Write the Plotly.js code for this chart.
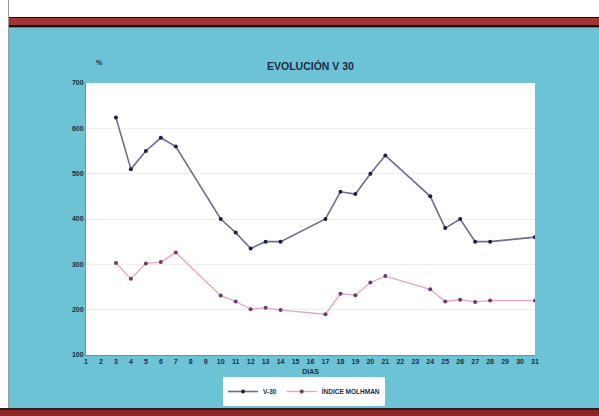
<!DOCTYPE html>
<html>
<head>
<meta charset="utf-8">
<script src="https://cdn.plot.ly/plotly-3.0.1.min.js"></script>
<style>
  html, body { margin: 0; padding: 0; background: #ffffff; }
  #page { position: relative; width: 599px; height: 416px; overflow: hidden; background: #ffffff; }
  #edge { position: absolute; left: 8px; top: 0; width: 1px; height: 408px; background: #9a9a9a; }
  #band-top { position: absolute; left: 9px; top: 17px; width: 590px; height: 11px;
              background: linear-gradient(#1a0a0a 0, #1a0a0a 1px, #a53535 1px, #a53535 8px, #1a0a0a 8px, #1a0a0a 10px, #4e8a96 10px); }
  #chart { position: absolute; left: 9px; top: 28px; width: 590px; height: 380px; }
  #band-bottom { position: absolute; left: 0; top: 408px; width: 599px; height: 8px;
                 background: linear-gradient(#2a2020 0, #2a2020 2px, #8c2424 2px); }
</style>
</head>
<body>
<div id="page">
  <div id="edge"></div>
  <div id="band-top"></div>
  <div id="chart"></div>
  <div id="band-bottom"></div>
</div>
<script>
// Days of the month with readings
const dias = [3, 4, 5, 6, 7, 10, 11, 12, 13, 14, 17, 18, 19, 20, 21, 24, 25, 26, 27, 28, 31];
// V-30 readings (%)
const v30 = [624, 510, 550, 579, 560, 400, 370, 335, 350, 350, 400, 460, 455, 500, 540, 450, 380, 400, 350, 350, 360];
// Índice Molhman readings (%)
const molhman = [303, 268, 302, 305, 326, 231, 218, 201, 204, 199, 190, 235, 232, 260, 274, 245, 218, 222, 217, 220, 220];
// Axis ticks
const xTicks = [1, 2, 3, 4, 5, 6, 7, 8, 9, 10, 11, 12, 13, 14, 15, 16, 17, 18, 19, 20, 21, 22, 23, 24, 25, 26, 27, 28, 29, 30, 31];
const yTicks = [100, 200, 300, 400, 500, 600, 700];

const inkColor = '#1d2b45';
const baseFont = { family: 'Liberation Sans, Arial, sans-serif', size: 7, color: inkColor, weight: 'bold' };

const traces = [
  {
    x: dias, y: v30, name: 'V-30', type: 'scatter', mode: 'lines+markers',
    line: { color: '#6e6f8c', width: 1.6 },
    marker: { color: '#1b1d4a', size: 4, symbol: 'circle' }
  },
  {
    x: dias, y: molhman, name: 'ÍNDICE MOLHMAN', type: 'scatter', mode: 'lines+markers',
    line: { color: '#e3a6c6', width: 1.3 },
    marker: { color: '#6e3a6a', size: 4, symbol: 'circle' }
  }
];

const layout = {
  width: 590, height: 380,
  margin: { l: 77, r: 64, t: 55, b: 53 },
  paper_bgcolor: '#6cc3d6',
  plot_bgcolor: '#ffffff',
  font: baseFont,
  showlegend: true,
  title: {
    text: 'EVOLUCIÓN V 30',
    font: { family: 'Liberation Sans, Arial, sans-serif', size: 10.5, color: inkColor, weight: 'bold' },
    x: 0.5, xref: 'paper', xanchor: 'center',
    y: 1 - 38 / 380, yref: 'container', yanchor: 'middle'
  },
  xaxis: {
    range: [1, 31], tickvals: xTicks, ticktext: xTicks.map(String),
    showgrid: false, zeroline: false,
    showline: true, linecolor: '#8a8a8a', linewidth: 1,
    ticks: '', ticklen: 0, tickfont: baseFont,
    title: { text: 'DIAS', font: baseFont, standoff: 4 },
    fixedrange: true
  },
  yaxis: {
    range: [100, 700], tickvals: yTicks,
    showgrid: true, gridcolor: '#efefef', gridwidth: 1,
    zeroline: false, showline: true, linecolor: '#8a8a8a', linewidth: 1,
    ticks: '', tickfont: baseFont,
    fixedrange: true
  },
  legend: {
    orientation: 'h', x: 0.5, xanchor: 'center', xref: 'container',
    y: 2 / 380, yref: 'container', yanchor: 'bottom',
    bgcolor: '#ffffff', borderwidth: 0,
    font: { family: 'Liberation Sans, Arial, sans-serif', size: 6.5, color: inkColor, weight: 'bold' },
    itemwidth: 30, tracegroupgap: 0
  },
  annotations: [
    {
      text: '%', xref: 'paper', yref: 'paper',
      x: 0.031, y: 1.074, xanchor: 'center', yanchor: 'middle',
      showarrow: false, font: baseFont
    }
  ]
};

Plotly.newPlot('chart', traces, layout, { displayModeBar: false, staticPlot: true });
</script>
</body>
</html>
